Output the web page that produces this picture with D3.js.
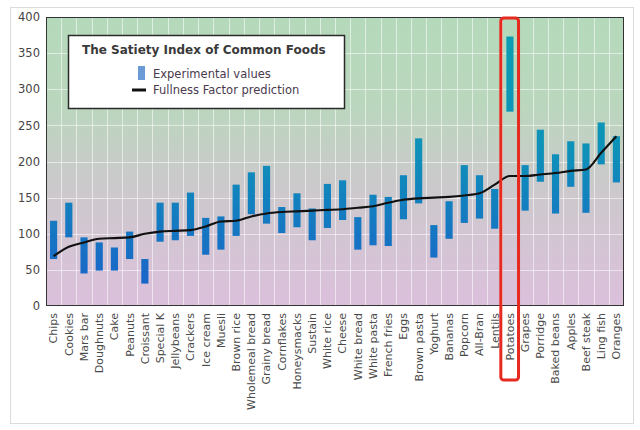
<!DOCTYPE html>
<html><head><meta charset="utf-8">
<script src="https://cdn.jsdelivr.net/npm/d3@7"></script>
<style>body{margin:0;background:#fff;}svg{display:block;font-family:"DejaVu Sans",Verdana,sans-serif;}</style>
</head><body>
<svg id="c" width="640" height="430"></svg>
<script>
const categories = ["Chips","Cookies","Mars bar","Doughnuts","Cake","Peanuts","Croissant","Special K","Jellybeans","Crackers","Ice cream","Muesli","Brown rice","Wholemeal bread","Grainy bread","Cornflakes","Honeysmacks","Sustain","White rice","Cheese","White bread","White pasta","French fries","Eggs","Brown pasta","Yoghurt","Bananas","Popcorn","All-Bran","Lentils","Potatoes","Grapes","Porridge","Baked beans","Apples","Beef steak","Ling fish","Oranges"];
const expLow  = [65,95,45,49,49,65,31,89,91,97,71,78,97,127,114,101,109,91,108,119,78,84,83,120,142,67,93,115,121,107,269,132,172,128,165,129,196,171];
const expHigh = [118,143,95,88,81,103,65,143,143,157,122,124,168,185,194,137,156,135,169,174,123,154,151,181,232,112,145,195,181,162,373,195,244,210,228,225,254,235];
const prediction = [69,82,88,93,94,95,100,103,104,105,110,117,118,124,128,130,131,132,133,134,136,138,143,147,149,150,151,153,156,168,180,180,182,184,187,189,212,235];
const yTicks = [0,50,100,150,200,250,300,350,400];
const highlighted = "Potatoes";

const svg = d3.select("#c");
const L=46, R=624, T=17, B=306;
const x = d3.scaleBand().domain(categories).range([L,R]).padding(0);
const y = d3.scaleLinear().domain([0,400]).range([B,T]);

// outer frame
svg.append("rect").attr("x",10.5).attr("y",7.5).attr("width",623).attr("height",416)
  .attr("fill","#fff").attr("stroke","#dcdcdc");

const defs = svg.append("defs");
const bg = defs.append("linearGradient").attr("id","bg").attr("x1",0).attr("y1",0).attr("x2",0).attr("y2",1);
bg.append("stop").attr("offset","0%").attr("stop-color","#b5d9bb");
bg.append("stop").attr("offset","30%").attr("stop-color","#bad7bd");
bg.append("stop").attr("offset","55%").attr("stop-color","#cacaca");
bg.append("stop").attr("offset","100%").attr("stop-color","#dcc0dc");
const bg2 = defs.append("linearGradient").attr("id","bar").attr("gradientUnits","userSpaceOnUse")
  .attr("x1",0).attr("y1",y(400)).attr("x2",0).attr("y2",y(0));
bg2.append("stop").attr("offset","0%").attr("stop-color","#0aa0b2");
bg2.append("stop").attr("offset","45%").attr("stop-color","#0e92b8");
bg2.append("stop").attr("offset","100%").attr("stop-color","#1c5ecb");

svg.append("rect").attr("x",L).attr("y",T).attr("width",R-L).attr("height",B-T).attr("fill","url(#bg)");

// grid
const g = svg.append("g").attr("stroke","#ffffff").attr("stroke-opacity",0.55).attr("stroke-width",1);
categories.forEach((c,i)=>{ if(i>0){ const xx=Math.round(x(c))+0.5; g.append("line").attr("x1",xx).attr("x2",xx).attr("y1",T).attr("y2",B);} });
yTicks.forEach(t=>{ if(t>0&&t<400){ const yy=Math.round(y(t))+0.5; g.append("line").attr("x1",L).attr("x2",R).attr("y1",yy).attr("y2",yy);} });

// bars
const bw = x.bandwidth()*0.47;
svg.append("g").selectAll("rect").data(categories).join("rect")
  .attr("x",(d)=>x(d)+(x.bandwidth()-bw)/2)
  .attr("y",(d,i)=>y(expHigh[i]))
  .attr("width",bw)
  .attr("height",(d,i)=>y(expLow[i])-y(expHigh[i]))
  .attr("fill","url(#bar)");

// line
const line = d3.line().x((d,i)=>x(categories[i])+x.bandwidth()/2).y(d=>y(d)).curve(d3.curveMonotoneX);
svg.append("path").datum(prediction).attr("d",line).attr("fill","none").attr("stroke","#111").attr("stroke-width",2.1);

// plot border
svg.append("rect").attr("x",L+0.5).attr("y",T+0.5).attr("width",R-L-1).attr("height",B-T-1)
  .attr("fill","none").attr("stroke","#333").attr("stroke-width",1);

// y axis
const ya = svg.append("g").attr("transform",`translate(${L},0)`).call(d3.axisLeft(y).tickValues(yTicks).tickSize(0).tickPadding(6));
ya.select(".domain").remove();
ya.selectAll("text").attr("font-size",11.5).attr("fill","#444").attr("font-family","DejaVu Sans, Verdana, sans-serif");

// x axis labels
const xa = svg.append("g").attr("transform",`translate(0,${B})`).call(d3.axisBottom(x).tickSize(0).tickPadding(0));
xa.select(".domain").remove();
xa.selectAll("text").attr("font-size",11).attr("fill","#4a4a4a").attr("font-family","DejaVu Sans, Verdana, sans-serif")
  .attr("text-anchor","end").attr("dy","0.35em").attr("transform","translate(0,7) rotate(-90)").attr("y",0).attr("x",0);

// highlight
const hx = x(highlighted);
svg.append("rect").attr("x",hx-1.5).attr("y",18).attr("width",x.bandwidth()+2.5).attr("height",362).attr("rx",3)
  .attr("fill","none").attr("stroke","#e62a20").attr("stroke-width",3);

// legend
const lg = svg.append("g");
lg.append("rect").attr("x",68.5).attr("y",35.5).attr("width",276).attr("height",73).attr("fill","#fff").attr("stroke","#2a2a2a").attr("stroke-width",1.5);
lg.append("text").attr("x",82).attr("y",54).attr("font-size",12).attr("font-weight","bold").attr("fill","#3a3a3a").text("The Satiety Index of Common Foods");
lg.append("rect").attr("x",138).attr("y",66).attr("width",7).attr("height",14).attr("fill","#6b9bd6");
lg.append("text").attr("x",153).attr("y",78).attr("font-size",11.5).attr("fill","#4a3a4e").text("Experimental values");
lg.append("line").attr("x1",132).attr("x2",146).attr("y1",90).attr("y2",90).attr("stroke","#111").attr("stroke-width",3);
lg.append("text").attr("x",153).attr("y",94).attr("font-size",11.5).attr("fill","#4a3a4e").text("Fullness Factor prediction");
</script>
</body></html>
